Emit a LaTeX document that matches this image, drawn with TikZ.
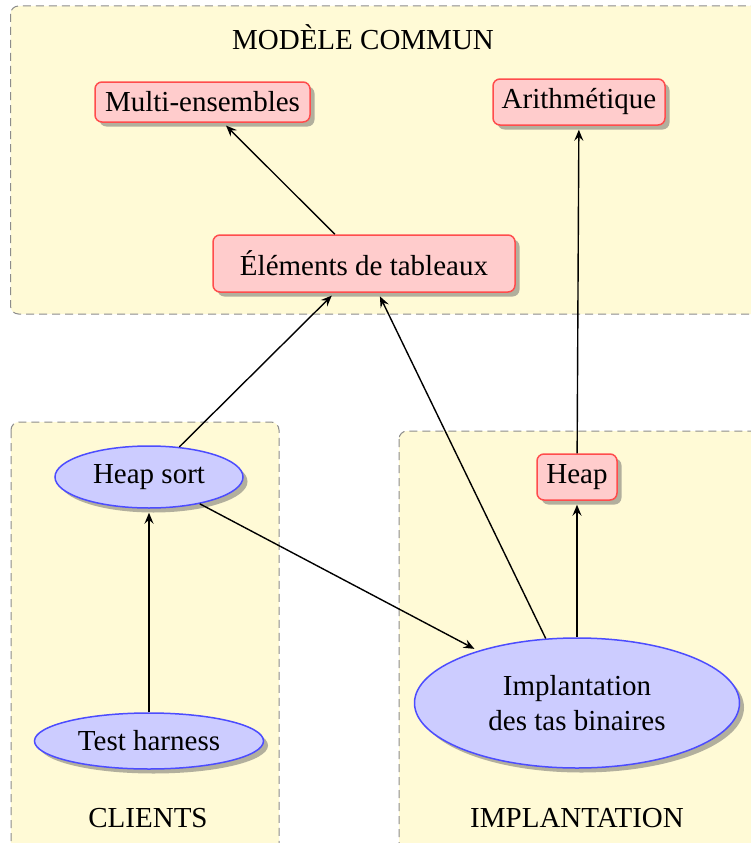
\documentclass[tikz,border=0pt]{standalone}
\usepackage{fontspec}
\setmainfont{Liberation Serif}
\usetikzlibrary{shapes.geometric,shadows,arrows.meta}
\definecolor{grpfill}{RGB}{255,250,214}
\tikzset{
  grp/.style={draw=black!45, dash pattern=on 8pt off 5pt, line width=1pt, fill=grpfill, rounded corners=8pt},
  grplabel/.style={anchor=base, font=\fontsize{29}{34}\selectfont},
  mshadow/.style={drop shadow={shadow xshift=4.5pt, shadow yshift=-4.5pt, opacity=0.5, fill=black!60}},
  rbox/.style={draw=red!70, fill=red!20, line width=1.5pt, rounded corners=7pt, inner sep=0pt, mshadow, font=\fontsize{29}{35}\selectfont},
  ebox/.style={ellipse, draw=blue!70, fill=blue!20, line width=1.5pt, inner sep=0pt, mshadow, font=\fontsize{29}{35}\selectfont, align=center},
  arr/.style={-{Stealth[length=11pt, width=9pt, inset=4pt]}, line width=1.4pt, shorten >=4pt}
}
\begin{document}
\begin{tikzpicture}[x=1pt,y=-1pt]
\useasboundingbox (0,0) rectangle (751,843);
\clip (0,0) rectangle (751,843);
% groups
\draw[grp] (10.5,6) rectangle (775,314);
\draw[grp] (11,422) rectangle (279,860);
\draw[grp] (399,431) rectangle (775,860);
\node[grplabel] (lmc) at (363,49) {MODÈLE COMMUN};
\node[grplabel] (lcl) at (148,827) {CLIENTS};
\node[grplabel] (lim) at (577,827) {IMPLANTATION};
% nodes
\node[rbox, minimum width=215pt, minimum height=40pt] (multi) at (202.5,102) {Multi-ensembles};
\node[rbox, minimum width=172pt, minimum height=46pt] (arith) at (579,102) {Arithmétique};
\node[rbox, minimum width=302pt, minimum height=57pt] (elem) at (364,263.5) {Éléments de tableaux};
\node[rbox, minimum width=80pt, minimum height=46pt] (heap) at (577,477) {Heap};
\node[ebox, minimum width=188pt, minimum height=62pt] (hsort) at (149,477) {Heap sort};
\node[ebox, minimum width=229pt, minimum height=56pt] (test) at (149,741) {Test harness};
\node[ebox, minimum width=325pt, minimum height=130pt] (impl) at (577,703) {Implantation\\des tas binaires};
% edges
\draw[arr] (elem) -- (multi);
\draw[arr] (heap) -- (arith);
\draw[arr] (hsort) -- (elem);
\draw[arr] (impl) -- (elem);
\draw[arr] (hsort) -- (impl);
\draw[arr] (test) -- (hsort);
\draw[arr] (impl) -- (heap);
\end{tikzpicture}
\end{document}
